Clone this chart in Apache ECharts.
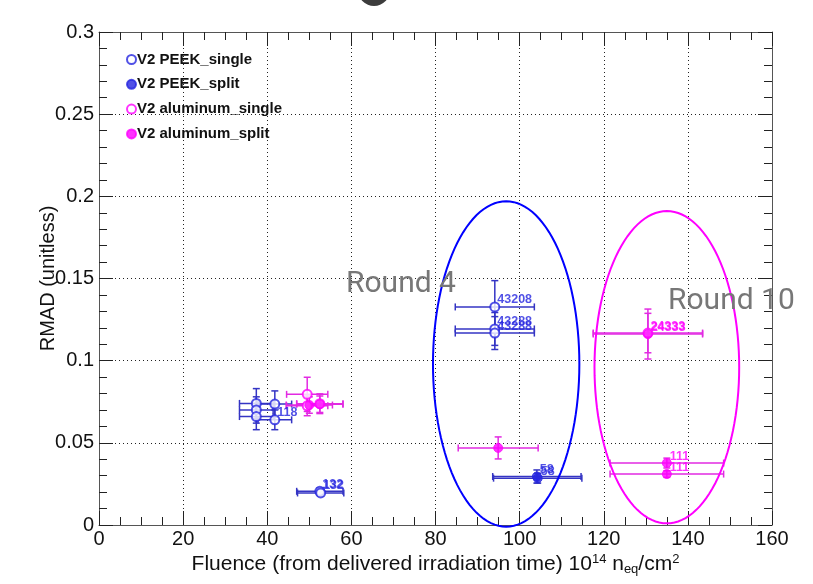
<!DOCTYPE html>
<html>
<head>
<meta charset="utf-8">
<script src="https://cdn.jsdelivr.net/npm/echarts@6/dist/echarts.min.js"></script>
<style>
html,body{margin:0;padding:0;background:#fff;}
#chart{width:813px;height:584px;}
</style>
</head>
<body>
<div id="chart"></div>
<script>
// ---------- data ----------
const xTicks = [0, 20, 40, 60, 80, 100, 120, 140, 160];
const yTicks = [0, 0.05, 0.1, 0.15, 0.2, 0.25, 0.3];

const seriesNames = ['V2 PEEK_single', 'V2 PEEK_split', 'V2 aluminum_single', 'V2 aluminum_split'];

const peekSingleX = [37.4, 37.4, 37.4, 41.8, 41.8, 52.5, 52.7, 94.1, 94.1, 94.1];
const peekSingleY = [0.074, 0.070, 0.066, 0.0736, 0.064, 0.0205, 0.0195, 0.1327, 0.1193, 0.1168];
const peekSingleXErr = [4, 4, 4, 4, 4, 5.5, 5.5, 9.4, 9.4, 9.4];
const peekSingleYErr = [0.009, 0.008, 0.008, 0.008, 0.006, 0.002, 0.002, 0.016, 0.01, 0.01];
const peekSingleLabels = ['', '', '', '', '118', '132', '132', '43208', '43288', '43288'];

const peekSplitX = [104.1, 104.3];
const peekSplitY = [0.0295, 0.0285];
const peekSplitXErr = [10.5, 10.5];
const peekSplitYErr = [0.004, 0.003];
const peekSplitLabels = ['58', '58'];

const alSingleX = [49.5, 49.5, 52.5, 130.5];
const alSingleY = [0.0795, 0.0725, 0.0738, 0.1168];
const alSingleXErr = [4.9, 4.9, 5.5, 13];
const alSingleYErr = [0.0104, 0.006, 0.006, 0.012];
const alSingleLabels = ['', '', '', '24333'];

const alSplitX = [50.0, 52.5, 94.9, 130.5, 135.0, 135.0];
const alSplitY = [0.073, 0.0735, 0.0469, 0.1162, 0.0377, 0.031];
const alSplitXErr = [5.5, 5.5, 9.5, 13, 13.5, 13.5];
const alSplitYErr = [0.005, 0.005, 0.0067, 0.0152, 0.003, 0.002];
const alSplitLabels = ['', '', '', '24333', '111', '111'];

const ellipseCx = [96.8, 135.0];
const ellipseCy = [0.098, 0.096];
const ellipseRx = [17.4, 17.2];
const ellipseRy = [0.099, 0.095];

// ---------- styles ----------
const BLUE = '#2626e0';
const BLUE_ERR = '#3434c4';
const MAG = '#ff00ff';
const MAG_ERR = '#e22ae2';
const ELL_COLORS = ['#0000ff', '#ff00ff'];
const FONT = '"Liberation Sans", Arial, sans-serif';

function zip(xs, ys, xe, ye) {
  return xs.map((x, i) => [x, ys[i], xe[i], ye[i]]);
}

function errorBarSeries(data, color) {
  return {
    type: 'custom',
    silent: true,
    z: 3,
    clip: false,
    data: data,
    renderItem: function (params, api) {
      const x = api.value(0), y = api.value(1), ex = api.value(2), ey = api.value(3);
      const c = api.coord([x, y]);
      const l = api.coord([x - ex, y]);
      const r = api.coord([x + ex, y]);
      const t = api.coord([x, y + ey]);
      const b = api.coord([x, y - ey]);
      const st = { stroke: color, lineWidth: 1.5 };
      const cap = 3.5;
      return {
        type: 'group',
        children: [
          { type: 'line', shape: { x1: l[0], y1: c[1], x2: r[0], y2: c[1] }, style: st },
          { type: 'line', shape: { x1: l[0], y1: c[1] - cap, x2: l[0], y2: c[1] + cap }, style: st },
          { type: 'line', shape: { x1: r[0], y1: c[1] - cap, x2: r[0], y2: c[1] + cap }, style: st },
          { type: 'line', shape: { x1: c[0], y1: t[1], x2: c[0], y2: b[1] }, style: st },
          { type: 'line', shape: { x1: c[0] - cap, y1: t[1], x2: c[0] + cap, y2: t[1] }, style: st },
          { type: 'line', shape: { x1: c[0] - cap, y1: b[1], x2: c[0] + cap, y2: b[1] }, style: st }
        ]
      };
    }
  };
}

function scatterSeries(name, xs, ys, labels, color, open) {
  return {
    name: name,
    type: 'scatter',
    z: 5,
    symbol: open ? 'emptyCircle' : 'circle',
    symbolSize: 9,
    clip: false,
    itemStyle: open ? { color: color, borderColor: color, borderWidth: 1.5 } : { color: color, borderColor: color, borderWidth: 1 },
    label: {
      show: true,
      position: [8, 5],
      align: 'left',
      verticalAlign: 'bottom',
      color: color,
      fontFamily: FONT,
      fontWeight: 'bold',
      fontSize: 12.5,
      formatter: function (p) { return labels[p.dataIndex]; }
    },
    emphasis: { disabled: true },
    data: xs.map((x, i) => [x, ys[i]])
  };
}

const ellipseSeries = {
  type: 'custom',
  silent: true,
  z: 6,
  clip: false,
  data: ellipseCx.map((cx, i) => [cx, ellipseCy[i], ellipseRx[i], ellipseRy[i]]),
  renderItem: function (params, api) {
    const cx = api.value(0), cy = api.value(1), rx = api.value(2), ry = api.value(3);
    const pts = [];
    for (let k = 0; k < 120; k++) {
      const a = (k / 120) * Math.PI * 2;
      pts.push(api.coord([cx + rx * Math.cos(a), cy + ry * Math.sin(a)]));
    }
    return {
      type: 'polygon',
      shape: { points: pts },
      style: { fill: 'none', stroke: ELL_COLORS[params.dataIndex], lineWidth: 2 }
    };
  }
};

const axisLineStyle = { color: '#555', width: 1 };
function xAxisCfg(pos, showLabel) {
  return {
    type: 'value', position: pos, min: xTicks[0], max: xTicks[xTicks.length - 1], interval: 20,
    axisLine: { show: true, onZero: false, lineStyle: axisLineStyle },
    axisTick: { show: true, inside: true, length: 14, lineStyle: { color: '#222' } },
    minorTick: { show: true, splitNumber: 4, length: 8, lineStyle: { color: '#222' } },
    splitLine: { show: showLabel, lineStyle: { color: '#222', type: [1, 3], width: 1 } },
    axisLabel: { show: showLabel, color: '#111', fontFamily: FONT, fontSize: 20, margin: 4 },
    name: showLabel ? 'Fluence (from delivered irradiation time) 10{sup|14} n{sub|eq}/cm{sup|2}' : '',
    nameLocation: 'middle',
    nameGap: 28,
    nameMoveOverlap: false,
    nameTextStyle: {
      color: '#111', fontFamily: FONT, fontSize: 21,
      rich: {
        sup: { fontSize: 13, fontFamily: FONT, color: '#111', verticalAlign: 'top', padding: [0, 0, 10, 0] },
        sub: { fontSize: 13, fontFamily: FONT, color: '#111', verticalAlign: 'bottom', padding: [8, 0, 0, 0] }
      }
    }
  };
}
function yAxisCfg(pos, showLabel) {
  return {
    type: 'value', position: pos, min: yTicks[0], max: yTicks[yTicks.length - 1], interval: 0.05,
    axisLine: { show: true, onZero: false, lineStyle: axisLineStyle },
    axisTick: { show: true, inside: true, length: 14, lineStyle: { color: '#222' } },
    minorTick: { show: true, splitNumber: 5, length: 8, lineStyle: { color: '#222' } },
    splitLine: { show: showLabel, lineStyle: { color: '#222', type: [1, 3], width: 1 } },
    axisLabel: { show: showLabel, color: '#111', fontFamily: FONT, fontSize: 20, margin: 5 },
    name: showLabel ? 'RMAD (unitless)' : '',
    nameLocation: 'middle',
    nameGap: 41,
    nameMoveOverlap: false,
    nameTextStyle: { color: '#111', fontFamily: FONT, fontSize: 20 }
  };
}

const chart = echarts.init(document.getElementById('chart'), null, { renderer: 'canvas' });
chart.setOption({
  animation: false,
  backgroundColor: '#fff',
  grid: { left: 99, right: 41, top: 32, bottom: 59, containLabel: false },
  xAxis: [xAxisCfg('bottom', true), xAxisCfg('top', false)],
  yAxis: [yAxisCfg('left', true), yAxisCfg('right', false)],
  legend: {
    orient: 'vertical',
    left: 121, top: 47,
    itemWidth: 9, itemHeight: 9, itemGap: 9.8,
    data: seriesNames,
    textStyle: { color: '#111', fontFamily: FONT, fontWeight: 'bold', fontSize: 15, padding: [0, 0, 0, -4] }
  },
  graphic: [
    { type: 'circle', shape: { cx: 374, cy: -10, r: 16 }, style: { fill: '#3c3c3c' }, z: 100 },
    { type: 'text', left: 346, top: 269, style: { text: 'Round 4', font: '30px Roboto, sans-serif', fill: '#777' }, z: 100 },
    { type: 'text', left: 668, top: 286, style: { text: 'Round 10', font: '30px Roboto, sans-serif', fill: '#777' }, z: 100 }
  ],
  series: [
    errorBarSeries(zip(peekSingleX, peekSingleY, peekSingleXErr, peekSingleYErr), BLUE_ERR),
    errorBarSeries(zip(peekSplitX, peekSplitY, peekSplitXErr, peekSplitYErr), BLUE_ERR),
    errorBarSeries(zip(alSingleX, alSingleY, alSingleXErr, alSingleYErr), MAG_ERR),
    errorBarSeries(zip(alSplitX, alSplitY, alSplitXErr, alSplitYErr), MAG_ERR),
    scatterSeries(seriesNames[0], peekSingleX, peekSingleY, peekSingleLabels, BLUE, true),
    scatterSeries(seriesNames[1], peekSplitX, peekSplitY, peekSplitLabels, BLUE, false),
    scatterSeries(seriesNames[2], alSingleX, alSingleY, alSingleLabels, MAG, true),
    scatterSeries(seriesNames[3], alSplitX, alSplitY, alSplitLabels, MAG, false),
    ellipseSeries
  ]
});
</script>
</body>
</html>
